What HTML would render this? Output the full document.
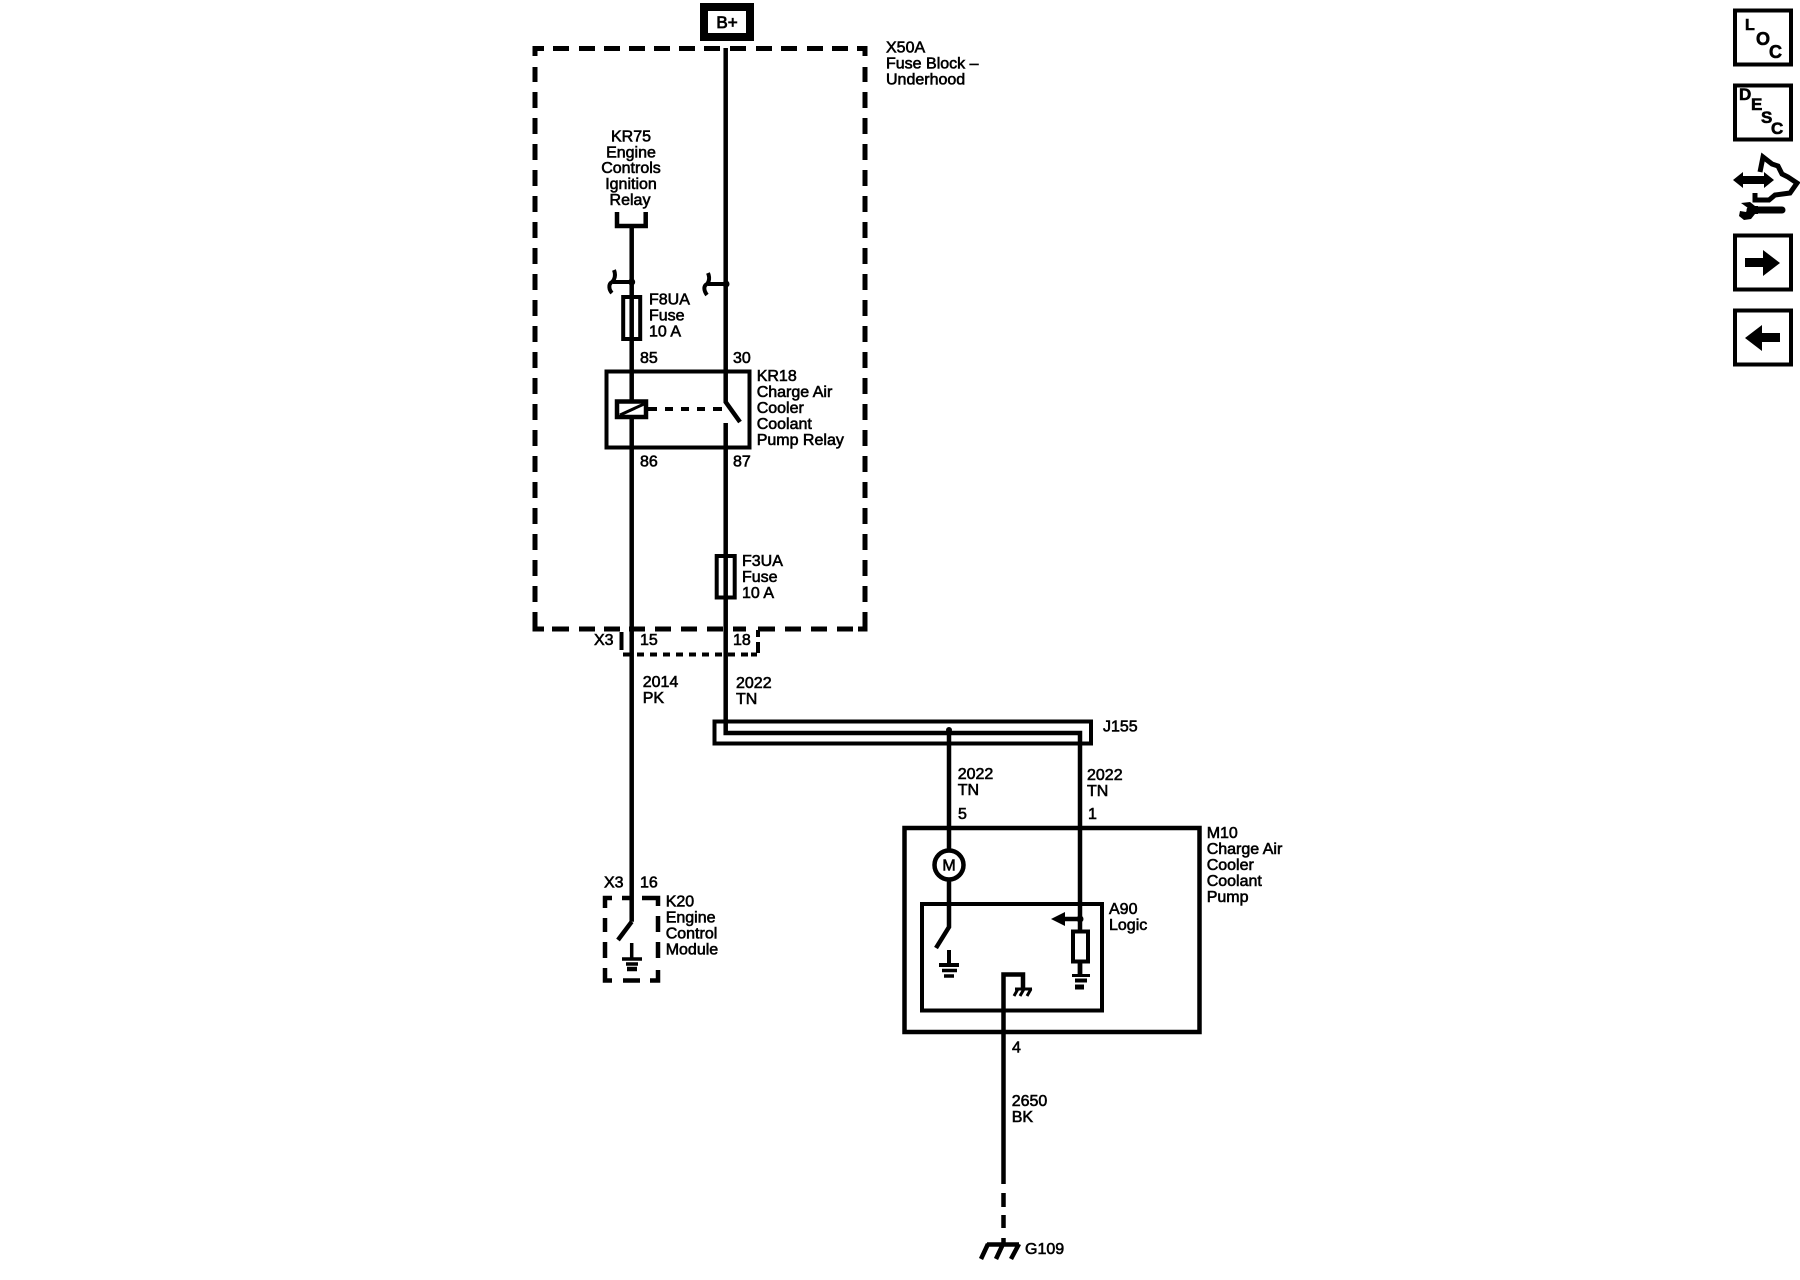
<!DOCTYPE html>
<html>
<head>
<meta charset="utf-8">
<style>
html,body{margin:0;padding:0;background:#fff;width:1800px;height:1280px;overflow:hidden}
svg{display:block}
text{font-family:"Liberation Sans",sans-serif;font-size:16px;fill:#000;stroke:#000;stroke-width:.6px}
.i{font-weight:bold;font-size:17px}
</style>
</head>
<body>
<svg width="1800" height="1280" viewBox="0 0 1800 1280" xmlns="http://www.w3.org/2000/svg">
<rect width="1800" height="1280" fill="#fff"/>
<g fill="none" stroke="#000" stroke-width="4.5">
<!-- B+ -->
<rect x="704" y="7" width="46" height="30" stroke-width="8"/>
<!-- fuse block dashed -->
<path d="M535 56V48.5H544M553 48.5H569M579 48.5H595M604 48.5H620M629 48.5H645M654 48.5H670M679 48.5H695M704 48.5H720M730 48.5H746M756 48.5H772M781 48.5H797M807 48.5H823M832 48.5H848M857 48.5H865V56" stroke-width="5"/>
<path d="M535 67V82M535 92V108M535 118V134M535 144V160M535 170V186M535 196V212M535 222V238M535 248V264M535 274V290M535 300V316M535 326V342M535 352V368M535 378V394M535 404V420M535 430V446M535 456V472M535 482V498M535 508V524M535 534V550M535 560V576M535 586V602M535 612V622" stroke-width="5"/>
<path d="M865 67V82M865 92V108M865 118V134M865 144V160M865 170V186M865 196V212M865 222V238M865 248V264M865 274V290M865 300V316M865 326V342M865 352V368M865 378V394M865 404V420M865 430V446M865 456V472M865 482V498M865 508V524M865 534V550M865 560V576M865 586V602M865 612V622" stroke-width="5"/>
<path d="M535 622V629H544M552 629H569M579 629H595M604 629H620M629 629H645M655 629H671M681 629H697M707 629H723M733 629H746M758 629H775M785 629H801M811 629H827M837 629H853M858 629H865V622" stroke-width="5"/>
<!-- X3 connector dashed -->
<path d="M621.5 632V650M623 654.5H631M637 654.5H644M650 654.5H657M663 654.5H670M676 654.5H683M689 654.5H696M702 654.5H709M715 654.5H722M728 654.5H735M741 654.5H748M751 654.5H757M758 653V642M758 637V630" stroke-width="4"/>
<!-- wires left -->
<path d="M631.7 227V921.7"/>
<path d="M617 212V226H645.7V212"/>
<!-- wire right -->
<path d="M725.7 48V402L740 422"/>
<path d="M725.7 423V733H1080V975"/>
<!-- splices -->
<path d="M613 282H632M614 270C617 278 612 282 612 282C608 284 609 290 612 293" stroke-width="4"/>
<path d="M708 284H726M708 273C711 280 707 284 707 284C703 286 704 291 707 295" stroke-width="4"/>
<!-- fuses -->
<rect x="623.2" y="297" width="17" height="42" stroke-width="4"/>
<rect x="716.7" y="556" width="18" height="41.5" stroke-width="4"/>
<!-- relay -->
<rect x="606.5" y="371.5" width="143" height="76" stroke-width="4"/>
<rect x="617" y="401.5" width="29" height="15.5" fill="#fff" stroke-width="4.5"/>
<path d="M620 415L644 404" stroke-width="3"/>
<path d="M648 409H657M665 409H673M681 409H689M697 409H705M713 409H722" stroke-width="4"/>
<!-- J155 -->
<rect x="714.5" y="721.5" width="376.5" height="22" stroke-width="4"/>
<!-- M10 -->
<path d="M949 730V927L936 948"/>
<rect x="904.5" y="828" width="295" height="204" stroke-width="4.5"/>
<rect x="922" y="904" width="180" height="106.5" stroke-width="4"/>
<circle cx="949" cy="865" r="14.5" fill="#fff" stroke-width="4.5"/>
<!-- ground switch -->
<path d="M949 950V964M939 965H959" stroke-width="4"/>
<path d="M942 970.5H957M944 976H954" stroke-width="3.5"/>
<!-- resistor -->
<path d="M1080 919H1062"/>
<rect x="1073" y="931.5" width="15" height="30" fill="#fff" stroke-width="4"/>
<path d="M1080 962V975"/>
<path d="M1072 975.5H1090" stroke-width="3"/>
<path d="M1075 980.5H1087" stroke-width="4"/>
<path d="M1075 987H1084" stroke-width="5"/>
<!-- logic ground / ground wire -->
<path d="M1003.5 1184V974.5H1023V988"/>
<path d="M1015 989H1032M1018 989L1014 996M1024 989L1020 996M1031 989L1027 996" stroke-width="3"/>
<path d="M1003.5 1193V1207M1003.5 1215V1228M1003.5 1238V1243"/>
<path d="M987 1244.5H1019M988 1244L981 1259M1003 1244L996 1259M1019 1244L1011 1259" stroke-width="4.5"/>
<!-- K20 -->
<path d="M605 908V898H612M622 898H632M642 898H650M650 898H658V906M605 918V932M605 942V958M605 968V980.5H612M623 980.5H640M650 980.5H658V970M658 958V942M658 932V916" stroke-width="4.5"/>
<path d="M631.7 921.7L618 940" stroke-width="4.5"/>
<path d="M631.7 943V958M622 959H642" stroke-width="3.5"/>
<path d="M626 964H638" stroke-width="3.5"/>
<path d="M627 969H637" stroke-width="4.5"/>
<!-- icons -->
<rect x="1735" y="10.5" width="56" height="54" stroke-width="4"/>
<rect x="1735" y="85.5" width="56" height="54" stroke-width="4"/>
<rect x="1735" y="235.5" width="56" height="54" stroke-width="4"/>
<rect x="1735" y="310.5" width="56" height="54" stroke-width="4"/>
<path d="M1760 172L1763 157L1772 164L1778 166L1782 174L1788 177L1797 183L1790 193L1775 195L1769 200L1755 200V193" stroke-width="5"/>
<path d="M1750 210H1782" stroke-width="7" stroke-linecap="round"/>
</g>
<g fill="#000">
<circle cx="631.7" cy="282" r="3.5"/>
<circle cx="726" cy="284" r="3.5"/>
<circle cx="949" cy="730" r="3"/>
<circle cx="1080" cy="919" r="3.5"/>
<path d="M1051 919L1065 912V926Z"/>
<path d="M1745 258H1763V250L1780 263L1763 276V267H1745Z"/>
<path d="M1780 333H1762V325L1745 338L1762 351V342H1780Z"/>
<path d="M1733 180L1743 172V176H1764V172L1774 180L1764 188V184H1743V188Z"/>
<path d="M1741 203L1750 202L1755 206H1758V214H1755L1751 219L1744 220L1739 216L1740 211L1746 212L1748 208Z"/>
</g>
<text x="727" y="28" text-anchor="middle" style="font-size:17px;stroke-width:.8px">B+</text>
<text x="886" y="52.5">X50A</text>
<text x="886" y="68.5">Fuse Block –</text>
<text x="886" y="84.5">Underhood</text>
<g text-anchor="middle">
<text x="631" y="141.5">KR75</text>
<text x="631" y="157.5">Engine</text>
<text x="631" y="173">Controls</text>
<text x="631" y="189">Ignition</text>
<text x="630" y="205">Relay</text>
<text x="949" y="870.5">M</text>
</g>
<text x="649" y="304.5">F8UA</text>
<text x="649" y="320.5">Fuse</text>
<text x="649" y="336.5">10 A</text>
<text x="640" y="363">85</text>
<text x="733" y="363">30</text>
<text x="756.7" y="381">KR18</text>
<text x="756.7" y="397">Charge Air</text>
<text x="756.7" y="413">Cooler</text>
<text x="756.7" y="429">Coolant</text>
<text x="756.7" y="445">Pump Relay</text>
<text x="640" y="466.5">86</text>
<text x="733" y="466.5">87</text>
<text x="742" y="566">F3UA</text>
<text x="742" y="582">Fuse</text>
<text x="742" y="598">10 A</text>
<text x="594" y="645">X3</text>
<text x="640" y="645">15</text>
<text x="733" y="645">18</text>
<text x="642.7" y="687">2014</text>
<text x="642.7" y="703">PK</text>
<text x="736" y="688">2022</text>
<text x="736" y="704">TN</text>
<text x="1103" y="731.5">J155</text>
<text x="957.7" y="779">2022</text>
<text x="957.7" y="795">TN</text>
<text x="958" y="819">5</text>
<text x="1087" y="780">2022</text>
<text x="1087" y="796">TN</text>
<text x="1088" y="819">1</text>
<text x="1206.7" y="838">M10</text>
<text x="1206.7" y="854">Charge Air</text>
<text x="1206.7" y="870">Cooler</text>
<text x="1206.7" y="886">Coolant</text>
<text x="1206.7" y="902">Pump</text>
<text x="1109" y="914">A90</text>
<text x="1109" y="930">Logic</text>
<text x="604" y="887.5">X3</text>
<text x="640" y="887.5">16</text>
<text x="665.7" y="906.5">K20</text>
<text x="665.7" y="922.5">Engine</text>
<text x="665.7" y="938.5">Control</text>
<text x="665.7" y="954.5">Module</text>
<text x="1012" y="1052.5">4</text>
<text x="1011.7" y="1106">2650</text>
<text x="1011.7" y="1122">BK</text>
<text x="1025" y="1254">G109</text>
<text class="i" x="1745" y="30" style="font-size:16px">L</text>
<text class="i" x="1756" y="45" style="font-size:18px">O</text>
<text class="i" x="1769" y="58" style="font-size:18px">C</text>
<text class="i" x="1739" y="100">D</text>
<text class="i" x="1751" y="110">E</text>
<text class="i" x="1761" y="123">S</text>
<text class="i" x="1771" y="134">C</text>
</svg>
</body>
</html>
